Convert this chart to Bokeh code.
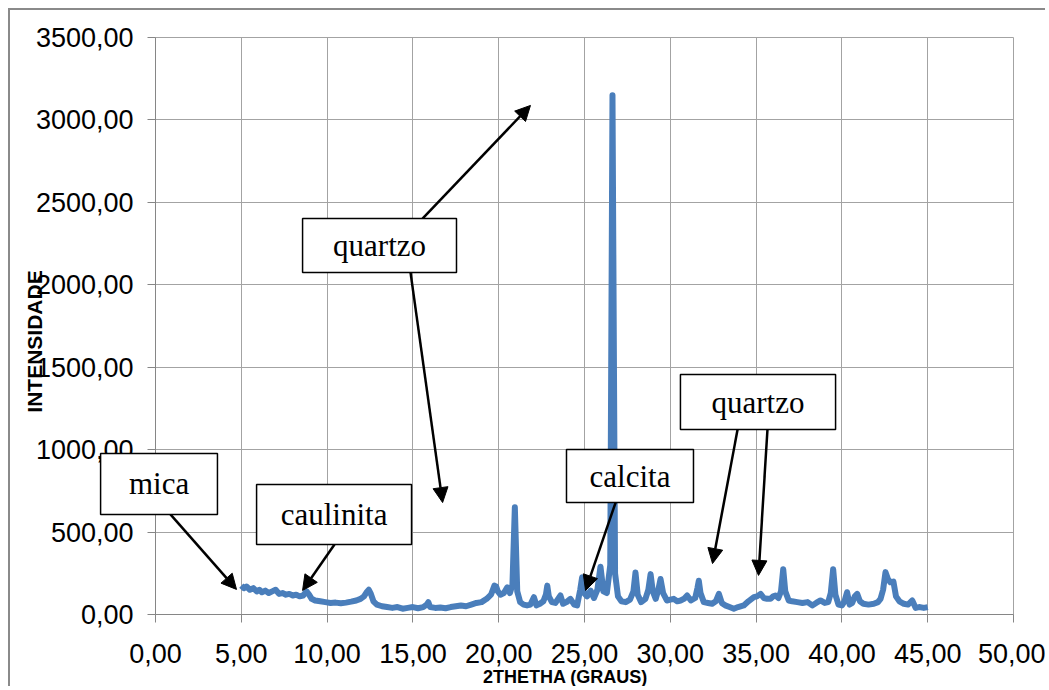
import math
from bokeh.plotting import figure
from bokeh.models import Range1d, FixedTicker, Label, Arrow, NormalHead, BoxAnnotation
from bokeh.embed import file_html
from bokeh.resources import INLINE

# ---- data (2theta in degrees, intensity) ----
two_theta = [5.00, 5.15, 5.30, 5.50, 5.70, 5.90, 6.05, 6.20, 6.40, 6.60, 6.80, 7.00, 7.20, 7.40, 7.60,
             7.80, 8.00, 8.20, 8.40, 8.60, 8.80, 8.95, 9.10, 9.30, 9.60, 9.90, 10.20, 10.50, 10.80, 11.10,
             11.40, 11.70, 11.95, 12.15, 12.30, 12.43, 12.55, 12.70, 12.90, 13.20, 13.50, 13.80, 14.10,
             14.40, 14.70, 15.00, 15.30, 15.60, 15.80, 15.90, 16.00, 16.30, 16.60, 16.90, 17.20, 17.50,
             17.80, 18.10, 18.40, 18.70, 19.00, 19.30, 19.55, 19.75, 19.85, 19.95, 20.10, 20.30, 20.50,
             20.65, 20.80, 20.94, 21.08, 21.25, 21.45, 21.65, 21.85, 22.05, 22.20, 22.40, 22.60, 22.75,
             22.83, 22.92, 23.10, 23.30, 23.50, 23.60, 23.75, 23.95, 24.18, 24.40, 24.57, 24.75, 24.86,
             24.97, 25.15, 25.35, 25.55, 25.75, 25.93, 26.10, 26.30, 26.50, 26.63, 26.78, 26.95, 27.15,
             27.40, 27.65, 27.85, 27.97, 28.10, 28.30, 28.55, 28.72, 28.85, 28.98, 29.15, 29.30, 29.43,
             29.58, 29.80, 30.00, 30.20, 30.40, 30.60, 30.80, 30.98, 31.20, 31.45, 31.58, 31.66, 31.76,
             31.95, 32.20, 32.44, 32.65, 32.83, 33.00, 33.20, 33.45, 33.70, 33.95, 34.28, 34.55, 34.87,
             35.05, 35.26, 35.45, 35.64, 35.84, 36.00, 36.13, 36.30, 36.45, 36.58, 36.70, 36.90, 37.10,
             37.40, 37.70, 38.00, 38.27, 38.50, 38.75, 39.00, 39.20, 39.35, 39.49, 39.62, 39.80, 40.00,
             40.15, 40.30, 40.45, 40.60, 40.75, 40.89, 41.05, 41.25, 41.55, 41.86, 42.10, 42.25, 42.40,
             42.54, 42.68, 42.83, 43.00, 43.15, 43.35, 43.61, 43.85, 44.10, 44.30, 44.50, 44.77, 45.00]
intensity = [175, 160, 170, 150, 160, 140, 150, 135, 145, 130, 140, 150, 125, 130, 120,
             125, 115, 120, 110, 115, 140, 120, 95, 85, 80, 75, 70, 72, 68, 72,
             78, 85, 95, 110, 135, 150, 125, 80, 60, 50, 45, 40, 45,
             35, 40, 45, 38, 45, 60, 75, 45, 40, 42, 38, 45, 50,
             55, 50, 60, 70, 75, 95, 120, 175, 170, 140, 120, 130, 165,
             130, 180, 650, 140, 75, 60, 55, 60, 105, 55, 65, 80, 120,
             175, 110, 75, 70, 100, 115, 65, 75, 95, 60, 55, 150, 225,
             130, 110, 145, 100, 150, 290, 140, 130, 300, 3150, 250, 110, 80,
             75, 90, 140, 255, 120, 75, 95, 150, 245, 140, 95, 150, 215,
             130, 85, 90, 95, 80, 85, 95, 115, 85, 100, 160, 205, 130,
             75, 70, 65, 80, 125, 70, 55, 45, 35, 45, 55, 80, 105,
             110, 125, 100, 95, 95, 110, 115, 100, 140, 275, 140, 85, 80,
             75, 70, 75, 55, 70, 85, 70, 75, 130, 275, 120, 60, 55,
             80, 135, 60, 70, 110, 125, 80, 65, 60, 65, 75, 95, 150,
             257, 215, 195, 200, 110, 80, 65, 60, 85, 40, 45, 40, 45]

x_ticks = [0, 5, 10, 15, 20, 25, 30, 35, 40, 45, 50]
x_tick_labels = ["0,00", "5,00", "10,00", "15,00", "20,00", "25,00", "30,00", "35,00", "40,00", "45,00", "50,00"]
y_ticks = [0, 500, 1000, 1500, 2000, 2500, 3000, 3500]
y_tick_labels = ["0,00", "500,00", "1000,00", "1500,00", "2000,00", "2500,00", "3000,00", "3500,00"]

x_title = "2THETHA (GRAUS)"
y_title = "INTENSIDADE"

# text boxes: text, left, right, bottom, top (data units)
box_texts = ["quartzo", "mica", "caulinita", "calcita", "quartzo"]
box_left = [8.57, -3.20, 5.89, 23.95, 30.59]
box_right = [17.54, 3.61, 14.92, 31.35, 39.63]
box_bottom = [2075, 607, 425, 679, 1122]
box_top = [2402, 977, 789, 1001, 1456]

# arrows: start -> end (data units)
arr_x0 = [15.56, 14.86, 0.87, 10.43, 26.81, 33.92, 35.66]
arr_y0 = [2402, 2075, 607, 425, 679, 1122, 1122]
arr_x1 = [21.85, 16.73, 4.72, 8.57, 25.06, 32.46, 35.14]
arr_y1 = [3088, 679, 152, 146, 146, 309, 237]

GRID = "#a3a3a3"
AXIS = "#868686"

# the frame spans the whole canvas; axes sit at x=0 / y=0 inside it
p = figure(width=1037, height=678, output_backend="svg", toolbar_location=None,
           x_range=Range1d(-8.45, 51.98), y_range=Range1d(-449, 3664),
           min_border=0, background_fill_color="white", border_fill_color="white",
           outline_line_color=None)
p.margin = (8, 0, 0, 8)
p.styles = {"border-left": "2px solid #8a8a8a", "border-top": "2px solid #8a8a8a"}

p.line(two_theta, intensity, line_color="#4a7ebb", line_width=6, line_join="round")

p.xaxis.ticker = FixedTicker(ticks=x_ticks)
p.yaxis.ticker = FixedTicker(ticks=y_ticks)
p.xaxis.major_label_overrides = dict(zip(x_ticks, x_tick_labels))
p.yaxis.major_label_overrides = dict(zip(y_ticks, y_tick_labels))
p.xaxis.fixed_location = 0
p.yaxis.fixed_location = 0
p.xaxis.bounds = (0, 50)
p.yaxis.bounds = (0, 3500)
for ax in (p.xaxis[0], p.yaxis[0]):
    ax.axis_line_color = AXIS
    ax.major_tick_line_color = AXIS
    ax.major_tick_in = 0
    ax.major_tick_out = 8
    ax.minor_tick_line_color = None
    ax.major_label_text_font = "Liberation Sans"
    ax.major_label_text_color = "black"
p.yaxis.major_label_text_font_size = "27px"
p.xaxis.major_label_text_font_size = "27px"
p.yaxis.major_label_standoff = 14
p.xaxis.major_label_standoff = 22

p.grid.grid_line_color = GRID
p.grid.grid_line_width = 1
p.xgrid.cross_bounds = (0, 3500)
p.ygrid.cross_bounds = (0, 50)

# axis titles
p.add_layout(Label(x=-7.05, y=1656, text=y_title, angle=math.pi / 2,
                   text_align="center", text_baseline="middle",
                   text_font="Liberation Sans", text_font_style="bold",
                   text_font_size="21px", text_color="black"))
p.add_layout(Label(x=23.89, y=-378, text=x_title,
                   text_align="center", text_baseline="middle",
                   text_font="Liberation Sans", text_font_style="bold",
                   text_font_size="18px", text_color="black"))

# arrows
for xs, ys, xe, ye in zip(arr_x0, arr_y0, arr_x1, arr_y1):
    p.add_layout(Arrow(end=NormalHead(size=15, fill_color="black", line_color="black"),
                       x_start=xs, y_start=ys, x_end=xe, y_end=ye,
                       line_color="black", line_width=2.5))

# text boxes
for t, l, r, b, tp in zip(box_texts, box_left, box_right, box_bottom, box_top):
    p.add_layout(BoxAnnotation(left=l, right=r, bottom=b, top=tp,
                               fill_color="white", fill_alpha=1.0,
                               line_color="black", line_width=1.5, line_alpha=1.0))
    p.add_layout(Label(x=(l + r) / 2, y=(b + tp) / 2, text=t,
                       text_align="center", text_baseline="middle",
                       text_font="Liberation Serif", text_font_size="31px",
                       text_color="black"))

open("out.html", "w").write(file_html(p, INLINE))
